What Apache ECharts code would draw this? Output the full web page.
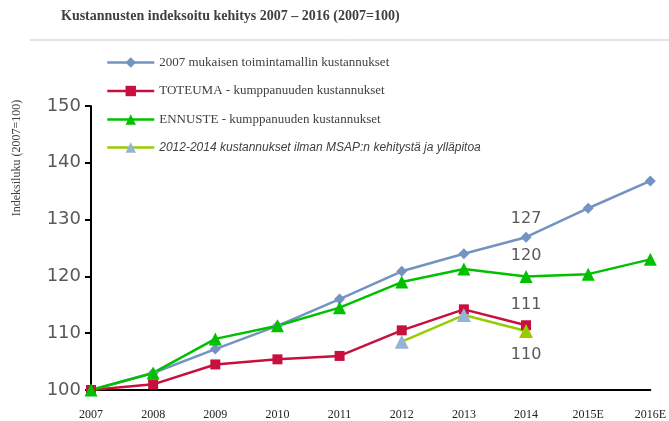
<!DOCTYPE html>
<html>
<head>
<meta charset="utf-8">
<script src="https://cdn.jsdelivr.net/npm/echarts@6/dist/echarts.min.js"></script>
<style>
  html, body { margin: 0; padding: 0; background: #fff; }
  #kustannus_chart { width: 669px; height: 421px; }
</style>
</head>
<body>
<div id="kustannus_chart"></div>
<script>
// vuodet (x-akseli)
var years = ["2007", "2008", "2009", "2010", "2011", "2012", "2013", "2014", "2015E", "2016E"];
// 2007 mukaisen toimintamallin kustannukset
var model2007 = [100, 103, 107.2, 111.3, 116, 120.9, 124, 126.9, 132, 136.8];
// TOTEUMA - kumppanuuden kustannukset
var toteuma = [100, 101, 104.5, 105.4, 106, 110.5, 114.2, 111.4, null, null];
// ENNUSTE - kumppanuuden kustannukset
var ennuste = [100, 103, 109, 111.3, 114.5, 119, 121.3, 120, 120.4, 123];
// 2012-2014 kustannukset ilman MSAP:n kehitystä ja ylläpitoa
var ilmanMsap = [null, null, null, null, null, 108.5, 113.2, 110.4, null, null];
var yTicks = [100, 110, 120, 130, 140, 150];

var seriesNames = [
  "2007 mukaisen toimintamallin kustannukset",
  "TOTEUMA - kumppanuuden kustannukset",
  "ENNUSTE - kumppanuuden kustannukset",
  "2012-2014 kustannukset ilman MSAP:n kehitystä ja ylläpitoa"
];
var labelYear = "2014"; // arvot näytetään vain tälle vuodelle

function withLabel(values, position, distance, extraItem) {
  return values.map(function (v, i) {
    if (v === null) return null;
    var item = { value: v };
    if (years[i] === labelYear) {
      item.label = { show: true, position: position, distance: distance };
      if (extraItem) item.itemStyle = extraItem;
    }
    return item;
  });
}

var myChart = echarts.init(document.getElementById("kustannus_chart"));
var labelStyle = {
  show: false,
  fontFamily: "DejaVu Sans",
  fontSize: 16,
  color: "#595959",
  formatter: function (p) { return Math.round(p.value); }
};

var option = {
  animation: false,
  backgroundColor: "#fff",
  graphic: [
    {
      type: "text",
      left: 61,
      top: 9,
      style: {
        text: "Kustannusten indeksoitu kehitys 2007 – 2016 (2007=100)",
        font: "bold 14px 'Liberation Serif'",
        fill: "#404040"
      }
    },
    {
      type: "line",
      shape: { x1: 30, y1: 40, x2: 669, y2: 40 },
      style: { stroke: "#c8c8c8", lineWidth: 1 }
    },
    {
      type: "text",
      x: 17,
      y: 158,
      rotation: Math.PI / 2,
      style: {
        text: "Indeksiluku (2007=100)",
        font: "12px 'Liberation Serif'",
        fill: "#404040",
        align: "center",
        verticalAlign: "middle"
      }
    }
  ],
  legend: {
    orient: "vertical",
    left: 101,
    top: 51,
    itemWidth: 47,
    itemHeight: 13,
    itemGap: 15.5,
    lineStyle: { width: 2.5 },
    textStyle: {
      fontFamily: "Liberation Serif",
      fontSize: 13,
      color: "#404040"
    },
    data: [
      seriesNames[0],
      seriesNames[1],
      seriesNames[2],
      {
        name: seriesNames[3],
        textStyle: { fontFamily: "Liberation Sans", fontStyle: "italic", fontSize: 12, color: "#404040" }
      }
    ]
  },
  grid: {
    left: 91,
    right: 18,
    top: 106,
    bottom: 31
  },
  xAxis: {
    type: "category",
    data: years,
    boundaryGap: false,
    axisLine: { lineStyle: { color: "#000", width: 2 } },
    axisTick: { show: false },
    axisLabel: {
      fontFamily: "Liberation Serif",
      fontSize: 12,
      color: "#222",
      margin: 19
    }
  },
  yAxis: {
    type: "value",
    min: yTicks[0],
    max: yTicks[yTicks.length - 1],
    interval: 10,
    axisLine: { show: true, lineStyle: { color: "#000", width: 2 } },
    axisTick: { show: true, length: 6, lineStyle: { color: "#000", width: 2 } },
    splitLine: { show: false },
    axisLabel: {
      fontFamily: "DejaVu Sans",
      fontSize: 18,
      color: "#595959",
      margin: 10
    }
  },
  series: [
    {
      name: seriesNames[0],
      type: "line",
      data: withLabel(model2007, "top", 5),
      symbol: "diamond",
      symbolSize: 11,
      color: "#7393c3",
      lineStyle: { width: 2.5, color: "#7393c3" },
      itemStyle: { color: "#7393c3" },
      label: labelStyle
    },
    {
      name: seriesNames[1],
      type: "line",
      data: withLabel(toteuma, "top", 7),
      symbol: "rect",
      symbolSize: 10,
      color: "#c8103e",
      lineStyle: { width: 2.5, color: "#c8103e" },
      itemStyle: { color: "#c8103e" },
      label: labelStyle
    },
    {
      name: seriesNames[3],
      type: "line",
      data: withLabel(ilmanMsap, "bottom", 9, { color: "#99cc00" }),
      symbol: "triangle",
      symbolSize: 14,
      color: "#95b3d7",
      lineStyle: { width: 2.5, color: "#99cc00" },
      itemStyle: { color: "#95b3d7" },
      label: labelStyle
    },
    {
      name: seriesNames[2],
      type: "line",
      data: withLabel(ennuste, "top", 6),
      symbol: "triangle",
      symbolSize: 13,
      color: "#00c000",
      lineStyle: { width: 2.5, color: "#00c000" },
      itemStyle: { color: "#00c000" },
      label: labelStyle
    }
  ]
};
myChart.setOption(option);
</script>
</body>
</html>
